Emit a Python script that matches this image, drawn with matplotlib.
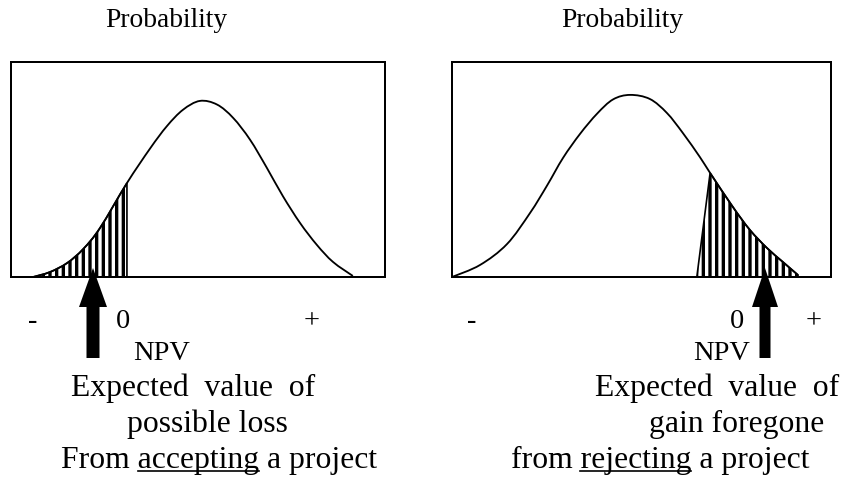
import numpy as np
import matplotlib.pyplot as plt
from matplotlib.patches import FancyArrow, PathPatch
from matplotlib.path import Path

plt.rcParams['font.family'] = ['Liberation Serif', 'DejaVu Serif']
plt.rcParams['hatch.linewidth'] = 2.0

# curves: x = 0..100 across each box, y = 0..100 up each box
left_x = [5.9, 10.4, 15.0, 19.3, 23.8, 31.0, 37.2, 41.7, 46.0, 50.5,
          55.1, 59.4, 63.9, 68.4, 72.7, 77.3, 81.8, 86.1, 91.4]
left_y = [0, 2.3, 6.5, 13.0, 22.8, 43.7, 59.8, 70.2, 77.8, 81.9,
          80.2, 74.0, 63.9, 50.8, 37.6, 25.1, 14.9, 7.0, 0.5]
left_cut = 5             # index of the point where the shading stops (NPV = 0)

right_x = [0, 7.4, 14.5, 20.6, 25.1, 29.3, 33.8, 38.3, 42.5, 47.0,
           52.2, 56.7, 60.9, 65.4, 68.1, 74.1, 78.6, 83.1, 87.3, 91.3]
right_y = [0, 5.6, 15.3, 29.8, 42.6, 55.4, 66.6, 76.0, 82.6, 84.7,
           82.8, 76.3, 67.0, 55.8, 48.4, 32.6, 21.9, 13.5, 7.0, 0.9]
right_cut = 14           # index where the shading starts on the curve
right_foot = 64.6        # the slanted edge of the shading meets the axis here

W, H, DPI = 842, 479, 120
fig = plt.figure(figsize=(W / DPI, H / DPI), dpi=DPI)


def box(x0, x1):
    ax = fig.add_axes([x0 / W, 1 - 277 / H, (x1 - x0) / W, 215 / H])
    ax.set_xlim(0, 100); ax.set_ylim(0, 100)
    ax.set_xticks([]); ax.set_yticks([])
    for s in ax.spines.values():
        s.set_linewidth(1.2)
    return ax


def smooth(xs, ys, i0, i1):
    # bezier segments through the read points (catmull-rom style)
    p = np.column_stack([xs, ys]).astype(float)
    n = len(p)
    verts, codes = [], []
    for i in range(i0, i1):
        a = p[max(i - 1, 0)]; b = p[i]; c = p[i + 1]; d = p[min(i + 2, n - 1)]
        verts += [b + (c - a) / 6, c - (d - b) / 6, c]
        codes += [Path.CURVE4] * 3
    return verts, codes


def shade(ax, verts, codes):
    pp = PathPatch(Path(verts, codes), facecolor='white', edgecolor='black',
                   hatch='|||', lw=1.0)
    if hasattr(pp, 'set_hatch_linewidth'):
        pp.set_hatch_linewidth(2.0)
    ax.add_patch(pp)


axL = box(11, 385)
axR = box(452, 831)

# left panel
v, c = smooth(left_x, left_y, 0, left_cut)
shade(axL, [(left_x[0], left_y[0])] + v + [(left_x[left_cut], 0), (left_x[0], 0)],
      [Path.MOVETO] + c + [Path.LINETO, Path.CLOSEPOLY])
v, c = smooth(left_x, left_y, 0, len(left_x) - 1)
axL.add_patch(PathPatch(Path([(left_x[0], left_y[0])] + v, [Path.MOVETO] + c),
                        fill=False, edgecolor='black', lw=1.1))

# right panel
v, c = smooth(right_x, right_y, right_cut, len(right_x) - 1)
shade(axR, [(right_foot, 0), (right_x[right_cut], right_y[right_cut])] + v +
      [(right_x[-1], 0), (right_foot, 0)],
      [Path.MOVETO, Path.LINETO] + c + [Path.LINETO, Path.CLOSEPOLY])
v, c = smooth(right_x, right_y, 0, len(right_x) - 1)
axR.add_patch(PathPatch(Path([(right_x[0], right_y[0])] + v, [Path.MOVETO] + c),
                        fill=False, edgecolor='black', lw=1.1))

# overlay in pixel units for labels and arrows
ov = fig.add_axes([0, 0, 1, 1], zorder=5)
ov.set_xlim(0, W); ov.set_ylim(H, 0)
ov.axis('off'); ov.patch.set_alpha(0)

ov.text(166, 27, 'Probability', fontsize=16.5, ha='center', va='baseline')
ov.text(622, 27, 'Probability', fontsize=16.5, ha='center', va='baseline')

for x, s in [(33, '-'), (123, '0'), (312, '+'), (472, '-'), (737, '0'), (814, '+')]:
    ov.text(x, 328, s, fontsize=17, ha='center', va='baseline')
ov.text(162, 360, 'NPV', fontsize=17, ha='center', va='baseline')
ov.text(722, 360, 'NPV', fontsize=17, ha='center', va='baseline')

ov.text(193, 396, 'Expected  value  of', fontsize=19, ha='center', va='baseline')
ov.text(207, 432, 'possible loss', fontsize=19, ha='center', va='baseline')
tL = ov.text(219, 468, 'From accepting a project', fontsize=19, ha='center', va='baseline')
ov.text(717, 396, 'Expected  value  of', fontsize=19, ha='center', va='baseline')
ov.text(737, 432, 'gain foregone', fontsize=19, ha='center', va='baseline')
tR = ov.text(660, 468, 'from rejecting a project', fontsize=19, ha='center', va='baseline')

ov.add_patch(FancyArrow(93, 358, 0, -90, width=13, head_width=28, head_length=39,
                        length_includes_head=True, color='black', lw=0))
ov.add_patch(FancyArrow(765, 358, 0, -90, width=11, head_width=26, head_length=39,
                        length_includes_head=True, color='black', lw=0))

fig.canvas.draw()
r = fig.canvas.get_renderer()


def width(s, size):
    tmp = ov.text(0, 0, s, fontsize=size)
    w = tmp.get_window_extent(r).width
    tmp.remove()
    return w


def underline(t, prefix, word, y):
    bb = t.get_window_extent(r)
    x1 = bb.x0 + width(prefix + word, t.get_fontsize())
    x0 = x1 - width(word, t.get_fontsize())
    inv = ov.transData.inverted()
    a = inv.transform((x0, 0))[0]
    b = inv.transform((x1, 0))[0]
    ov.plot([a, b], [y, y], color='black', lw=1.0)


underline(tL, 'From ', 'accepting', 471)
underline(tR, 'from ', 'rejecting', 471)

fig.savefig('out.png', dpi=DPI)
